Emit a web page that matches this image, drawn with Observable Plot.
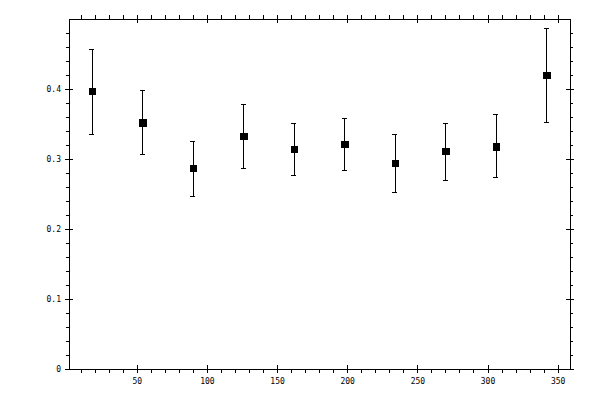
<!DOCTYPE html>
<html>
<head>
<meta charset="utf-8">
<script src="https://cdn.jsdelivr.net/npm/d3@7"></script>
<script src="https://cdn.jsdelivr.net/npm/@observablehq/plot@0.6"></script>
<style>
  html, body { margin: 0; padding: 0; background: #fff; }
  #chart svg { display: block; shape-rendering: crispEdges; }
</style>
</head>
<body>
<div id="chart"></div>
<script>
// Data
const angles = [18, 54, 90, 126, 162, 198, 234, 270, 306, 342];
const values = [0.397, 0.352, 0.287, 0.333, 0.314, 0.321, 0.294, 0.311, 0.318, 0.420];
const lower  = [0.336, 0.307, 0.247, 0.287, 0.277, 0.284, 0.253, 0.270, 0.274, 0.353];
const upper  = [0.457, 0.398, 0.326, 0.378, 0.351, 0.358, 0.336, 0.351, 0.364, 0.487];

const xMajorTicks = [50, 100, 150, 200, 250, 300, 350];
const xMinorTicks = d3.range(10, 360, 10).filter(v => v % 50 !== 0);
const yMajorTicks = [0, 0.1, 0.2, 0.3, 0.4];
const yMinorTicks = d3.range(0.02, 0.5, 0.02).filter(v => Math.abs(v * 10 - Math.round(v * 10)) > 1e-6);
const yTickLabels = ["0", "0.1", "0.2", "0.3", "0.4"];

const data = angles.map((a, i) => ({x: a, y: values[i], lo: lower[i], hi: upper[i]}));

const xDomain = [1.7, 358.8];
const yDomain = [0, 0.5];
const font = "DejaVu Sans Mono";

const chart = Plot.plot({
  width: 600,
  height: 400,
  marginLeft: 69,
  marginRight: 30,
  marginTop: 19,
  marginBottom: 31,
  x: {domain: xDomain, axis: null},
  y: {domain: yDomain, axis: null},
  style: {background: "#fff", color: "#000"},
  marks: [
    Plot.frame({stroke: "#000", strokeWidth: 1}),
    // bottom axis ticks
    Plot.ruleX(xMinorTicks, {x: d => d, y1: 0, y2: 0, insetTop: 0, insetBottom: -4, stroke: "#000"}),
    Plot.ruleX(xMajorTicks, {x: d => d, y1: 0, y2: 0, insetTop: -4, insetBottom: -4, stroke: "#000"}),
    // top axis ticks
    Plot.ruleX(xMinorTicks, {x: d => d, y1: 0.5, y2: 0.5, insetTop: -4, insetBottom: 0, stroke: "#000"}),
    Plot.ruleX(xMajorTicks, {x: d => d, y1: 0.5, y2: 0.5, insetTop: -4, insetBottom: -4, stroke: "#000"}),
    // left axis ticks
    Plot.ruleY(yMinorTicks, {y: d => d, x1: xDomain[0], x2: xDomain[0], insetLeft: -3, insetRight: 0, stroke: "#000"}),
    Plot.ruleY(yMajorTicks, {y: d => d, x1: xDomain[0], x2: xDomain[0], insetLeft: -4, insetRight: -4, stroke: "#000"}),
    // right axis ticks
    Plot.ruleY(yMinorTicks, {y: d => d, x1: xDomain[1], x2: xDomain[1], insetLeft: 0, insetRight: -3, stroke: "#000"}),
    Plot.ruleY(yMajorTicks, {y: d => d, x1: xDomain[1], x2: xDomain[1], insetLeft: -4, insetRight: -4, stroke: "#000"}),
    // tick labels
    Plot.text(xMajorTicks, {x: d => d, y: 0, text: d => String(d), dy: 11.5, fontFamily: font, fontSize: 8, fill: "#000"}),
    Plot.text(yMajorTicks, {x: xDomain[0], y: d => d, text: (d, i) => yTickLabels[i], dx: -8.5, textAnchor: "end", fontFamily: font, fontSize: 8, fill: "#000"}),
    // error bars
    Plot.ruleX(data, {x: "x", y1: "lo", y2: "hi", stroke: "#000", strokeWidth: 1}),
    Plot.ruleY(data, {y: "hi", x1: "x", x2: "x", insetLeft: -2.5, insetRight: -2.5, stroke: "#000"}),
    Plot.ruleY(data, {y: "lo", x1: "x", x2: "x", insetLeft: -2.5, insetRight: -2.5, stroke: "#000"}),
    // markers
    Plot.dot(data, {x: "x", y: "y", symbol: "square", r: 4.1, fill: "#000", stroke: "none"})
  ]
});
document.getElementById("chart").appendChild(chart);
</script>
</body>
</html>
